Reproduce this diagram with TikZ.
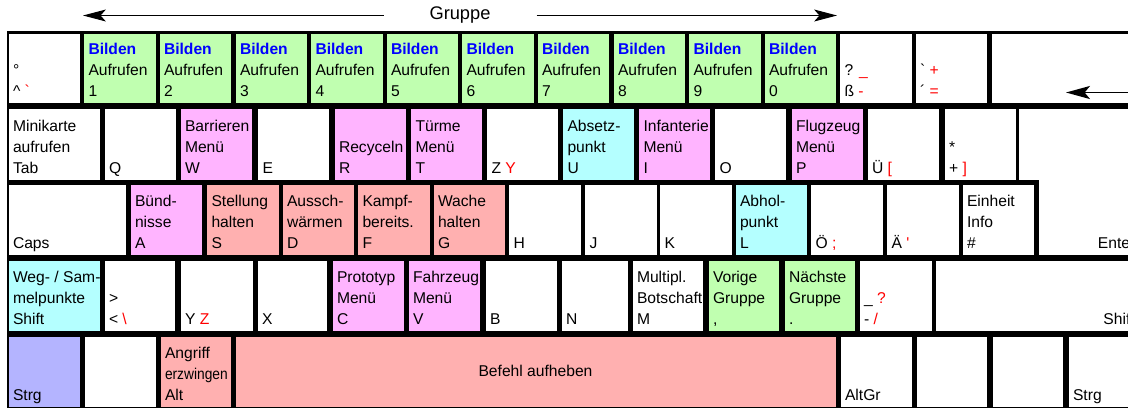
\documentclass[tikz,border=0pt]{standalone}
\usepackage{fontspec}
\setmainfont{Liberation Sans}
\usepackage{graphicx}
\usetikzlibrary{arrows.meta}
\definecolor{grn}{RGB}{192,255,176}
\definecolor{pnk}{RGB}{255,180,255}
\definecolor{sal}{RGB}{255,176,176}
\definecolor{cyn}{RGB}{180,255,255}
\definecolor{lav}{RGB}{180,180,255}
\newcommand{\bilden}{\textcolor{blue}{\textbf{Bilden}}}
\newcommand{\rd}[1]{\textcolor{red}{#1}}
\begin{document}
\begin{tikzpicture}[x=0.02cm, y=-0.02cm]
\tikzstyle{every node}+=[inner sep=0pt]
\tikzstyle{key}=[draw=black, line width=0.5pt, fill=white]
\tikzstyle{lbl}=[anchor=south west, align=left, inner xsep=2.6pt, inner ysep=0.1pt, font=\fontsize{8.9}{11.9}\selectfont, execute at end node=\strut]
\tikzstyle{grparrow}=[line width=0.6pt, -{Stealth[length=13pt, width=6.8pt, inset=3pt]}]
\tikzstyle{bsarrow}=[line width=1.1pt, -{Stealth[length=13.6pt, width=7.4pt, inset=3pt]}]
\useasboundingbox (0,0) rectangle (1128,407);
\clip (0,0) rectangle (1128,407);
\fill [black] (6.5,31) rectangle (1140,420);
% Gruppe
\node [font=\fontsize{10.4}{12}\selectfont, inner xsep=26pt] (grp) at (460,15.5) {Gruppe};
\coordinate (grpl) at (83,15.5);
\coordinate (grpr) at (837,15.5);
\draw [grparrow] (grp.west) -- (grpl);
\draw [grparrow] (grp.east) -- (grpr);
% row 1
\draw [key] (8,103.5) node [lbl] (kcirc) {°\\\textasciicircum{} \rd{\textasciigrave}} rectangle (80.5,33);
\draw [key, fill=grn] (83.5,103.5) node [lbl] (k1) {\bilden\\Aufrufen\\1} rectangle (156,33);
\draw [key, fill=grn] (159,103.5) node [lbl] (k2) {\bilden\\Aufrufen\\2} rectangle (231.5,33);
\draw [key, fill=grn] (235,103.5) node [lbl] (k3) {\bilden\\Aufrufen\\3} rectangle (307.5,33);
\draw [key, fill=grn] (310.5,103.5) node [lbl] (k4) {\bilden\\Aufrufen\\4} rectangle (383,33);
\draw [key, fill=grn] (386,103.5) node [lbl] (k5) {\bilden\\Aufrufen\\5} rectangle (458.5,33);
\draw [key, fill=grn] (461.5,103.5) node [lbl] (k6) {\bilden\\Aufrufen\\6} rectangle (534,33);
\draw [key, fill=grn] (537,103.5) node [lbl] (k7) {\bilden\\Aufrufen\\7} rectangle (609.5,33);
\draw [key, fill=grn] (613,103.5) node [lbl] (k8) {\bilden\\Aufrufen\\8} rectangle (685.5,33);
\draw [key, fill=grn] (688.5,103.5) node [lbl] (k9) {\bilden\\Aufrufen\\9} rectangle (761,33);
\draw [key, fill=grn] (764,103.5) node [lbl] (k0) {\bilden\\Aufrufen\\0} rectangle (836.5,33);
\draw [key] (839.5,103.5) node [lbl] (kss) {? \rd{\_}\\ß \rd{-}} rectangle (912,33);
\draw [key] (915,103.5) node [lbl] (kacc) {\textasciigrave{} \rd{+}\\\textasciiacute{} \rd{=}} rectangle (987.5,33);
\draw [key] (991,103.5) rectangle (1140,33);
\coordinate (bsa) at (1066,92.5);
\coordinate (bsb) at (1135,92.5);
\draw [bsarrow] (bsb) -- (bsa);
% row 2
\draw [key] (8,180) node [lbl] (ktab) {Minikarte\\aufrufen\\Tab} rectangle (100.5,108.5);
\draw [key] (104,180) node [lbl] (kq) {Q} rectangle (176,108.5);
\draw [key, fill=pnk] (180,180) node [lbl] (kw) {Barrieren\\Menü\\W} rectangle (252,108.5);
\draw [key] (257.5,180) node [lbl] (ke) {E} rectangle (329.5,108.5);
\draw [key, fill=pnk] (334,180) node [lbl] (kr) {Recyceln\\R} rectangle (406,108.5);
\draw [key, fill=pnk] (410.5,180) node [lbl] (kt) {Türme\\Menü\\T} rectangle (482.5,108.5);
\draw [key] (486.5,180) node [lbl] (kz) {Z \rd{Y}} rectangle (558.5,108.5);
\draw [key, fill=cyn] (562.5,180) node [lbl] (ku) {Absetz-\\punkt\\U} rectangle (634.5,108.5);
\draw [key, fill=pnk] (638.5,180) node [lbl] (ki) {Infanterie\\Menü\\I} rectangle (710.5,108.5);
\draw [key] (714.5,180) node [lbl] (ko) {O} rectangle (786.5,108.5);
\draw [key, fill=pnk] (791,180) node [lbl] (kp) {Flugzeug\\Menü\\P} rectangle (863,108.5);
\draw [key] (867,180) node [lbl] (kue) {Ü \rd{[}} rectangle (939,108.5);
\draw [key] (944,180) node [lbl] (kplus) {*\\+ \rd{]}} rectangle (1016,108.5);
\draw [key] (1018.5,108.5) -- (1140,108.5) -- (1140,255.5) -- (1038.5,255.5) -- (1038.5,180) -- (1018.5,180) -- cycle;
\node [lbl] (kent) at (1093,255.5) {Enter};
% row 3
\draw [key] (8,255.5) node [lbl] (kcaps) {Caps} rectangle (126.5,184);
\draw [key, fill=pnk] (130,255.5) node [lbl] (ka) {Bünd-\\nisse\\A} rectangle (202.5,184);
\draw [key, fill=sal] (206.5,255.5) node [lbl] (ks) {Stellung\\halten\\S} rectangle (279,184);
\draw [key, fill=sal] (282,255.5) node [lbl] (kd) {Aussch-\\wärmen\\D} rectangle (354.5,184);
\draw [key, fill=sal] (357.5,255.5) node [lbl] (kf) {Kampf-\\bereits.\\F} rectangle (430,184);
\draw [key, fill=sal] (433,255.5) node [lbl] (kg) {Wache\\halten\\G} rectangle (505.5,184);
\draw [key] (508.5,255.5) node [lbl] (kh) {H} rectangle (581,184);
\draw [key] (584.5,255.5) node [lbl] (kj) {J} rectangle (657,184);
\draw [key] (659.5,255.5) node [lbl] (kk) {K} rectangle (732,184);
\draw [key, fill=cyn] (735,255.5) node [lbl] (kl) {Abhol-\\punkt\\L} rectangle (807.5,184);
\draw [key] (810.5,255.5) node [lbl] (koe) {Ö \rd{;}} rectangle (883,184);
\draw [key] (886.5,255.5) node [lbl] (kae) {Ä \rd{\textquotesingle}} rectangle (959,184);
\draw [key] (962,255.5) node [lbl] (khash) {Einheit\\Info\\\#} rectangle (1034.5,184);
% row 4
\draw [key, fill=cyn] (8,331.5) node [lbl] (klsh) {Weg- / Sam-\\melpunkte\\Shift} rectangle (100.5,260);
\draw [key] (104,331.5) node [lbl] (kless) {>\\< \rd{\textbackslash}} rectangle (175.5,260);
\draw [key] (180,331.5) node [lbl] (ky) {Y \rd{Z}} rectangle (253,260);
\draw [key] (257,331.5) node [lbl] (kx) {X} rectangle (327.5,260);
\draw [key, fill=pnk] (332,331.5) node [lbl] (kc) {Prototyp\\Menü\\C} rectangle (404,260);
\draw [key, fill=pnk] (408,331.5) node [lbl] (kv) {Fahrzeug\\Menü\\V} rectangle (480.5,260);
\draw [key] (485,331.5) node [lbl] (kb) {B} rectangle (557,260);
\draw [key] (561,331.5) node [lbl] (kn) {N} rectangle (628,260);
\draw [key] (632,331.5) node [lbl] (km) {Multipl.\\Botschaft\\M} rectangle (703.5,260);
\draw [key, fill=grn] (708,331.5) node [lbl] (kcomma) {Vorige\\Gruppe\\,} rectangle (779.5,260);
\draw [key, fill=grn] (784,331.5) node [lbl] (kdot) {Nächste\\Gruppe\\.} rectangle (855.5,260);
\draw [key] (859,331.5) node [lbl] (kminus) {\_ \rd{?}\\- \rd{/}} rectangle (932,260);
\draw [key] (935.5,331.5) rectangle (1140,260);
\node [lbl] (krsh) at (1098.5,331.5) {Shift};
% row 5
\draw [key, fill=lav] (8,407.5) node [lbl] (klctl) {Strg} rectangle (80.5,336);
\draw [key] (84,407.5) rectangle (156,336);
\draw [key, fill=sal] (160,407.5) node [lbl] (kalt) {Angriff\\\scalebox{0.88}[1]{erzwingen}\\Alt} rectangle (231.5,336);
\draw [key, fill=sal] (235,407.5) rectangle (836.5,336);
\node [font=\fontsize{8.9}{11.9}\selectfont] (kspc) at (535.5,371) {Befehl aufheben};
\draw [key] (840,407.5) node [lbl] (kaltgr) {AltGr} rectangle (912,336);
\draw [key] (916,407.5) rectangle (987.5,336);
\draw [key] (992,407.5) rectangle (1063.5,336);
\draw [key] (1068,407.5) node [lbl] (krctl) {Strg} rectangle (1140,336);
\end{tikzpicture}
\end{document}
